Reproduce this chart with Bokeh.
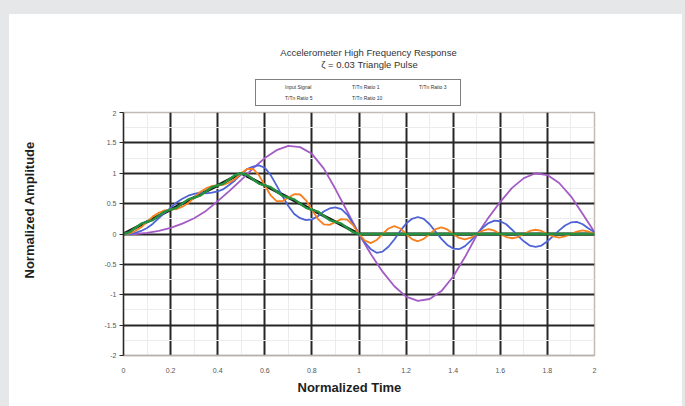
from bokeh.plotting import figure
from bokeh.layouts import column
from bokeh.models import Legend, LegendItem, Label, Title, FixedTicker, LinearAxis
from bokeh.embed import file_html
from bokeh.resources import INLINE

# ---------------- data ----------------
series_names = ["Input Signal", "T/Tn Ratio 1", "T/Tn Ratio 3", "T/Tn Ratio 5", "T/Tn Ratio 10"]

t_input = [0.0, 0.5, 1.0, 2.0]
input_signal = [0.0, 1.0, 0.0, 0.0]

t_coarse = [round(i * 0.05, 3) for i in range(41)]
t_fine = [round(i * 0.025, 3) for i in range(81)]

ratio1 = [0.0, 0.0, 0.02, 0.05, 0.1, 0.17, 0.26, 0.38, 0.54, 0.71,
          0.89, 1.08, 1.25, 1.38, 1.45, 1.43, 1.32, 1.08, 0.74, 0.37,
          0.0, -0.33, -0.62, -0.86, -1.03, -1.1, -1.07, -0.94, -0.7, -0.38,
          -0.02, 0.27, 0.53, 0.76, 0.92, 1.0, 0.97, 0.84, 0.62, 0.33, 0.03]

ratio3 = [0.0, 0.0, 0.02, 0.05, 0.1, 0.17, 0.26, 0.35, 0.43, 0.52,
          0.58, 0.63, 0.66, 0.68, 0.67, 0.68, 0.7, 0.74, 0.81, 0.89,
          0.98, 1.07, 1.11, 1.13, 1.09, 0.97, 0.8, 0.62, 0.46, 0.33,
          0.26, 0.23, 0.24, 0.29, 0.37, 0.42, 0.44, 0.41, 0.32, 0.17,
          0.0, -0.14, -0.25, -0.31, -0.29, -0.21, -0.09, 0.05, 0.17, 0.25,
          0.28, 0.25, 0.16, 0.04, -0.08, -0.18, -0.24, -0.25, -0.2, -0.11,
          0.0, 0.1, 0.18, 0.22, 0.21, 0.16, 0.07, -0.03, -0.12, -0.19,
          -0.21, -0.19, -0.12, -0.03, 0.06, 0.14, 0.19, 0.2, 0.16, 0.09, 0.03]

ratio5 = [0.0, 0.01, 0.05, 0.11, 0.2, 0.29, 0.35, 0.39, 0.4, 0.41,
          0.45, 0.51, 0.6, 0.69, 0.75, 0.79, 0.8, 0.81, 0.85, 0.91,
          1.0, 1.07, 1.07, 0.97, 0.8, 0.635, 0.54, 0.54, 0.6, 0.655,
          0.65, 0.555, 0.4, 0.25, 0.16, 0.15, 0.2, 0.245, 0.235, 0.145,
          0.0, -0.11, -0.15, -0.1, 0.0, 0.09, 0.13, 0.09, 0.0, -0.085,
          -0.12, -0.08, 0.0, 0.08, 0.11, 0.075, 0.0, -0.065, -0.09, -0.06,
          0.0, 0.055, 0.08, 0.055, 0.0, -0.05, -0.07, -0.05, 0.0, 0.05,
          0.07, 0.05, 0.0, -0.04, -0.06, -0.04, 0.0, 0.04, 0.06, 0.04, 0.0]

t_ratio10 = t_fine[:41] + [2.0]
ratio10 = [0.0, 0.03, 0.1, 0.17, 0.2, 0.23, 0.3, 0.37, 0.4, 0.43,
           0.5, 0.57, 0.6, 0.63, 0.7, 0.77, 0.8, 0.83, 0.9, 0.97,
           1.0, 0.97, 0.9, 0.83, 0.8, 0.77, 0.7, 0.63, 0.6, 0.57,
           0.5, 0.43, 0.4, 0.37, 0.3, 0.23, 0.2, 0.17, 0.1, 0.03, 0.0, 0.0]

x_ticks = [0, 0.2, 0.4, 0.6, 0.8, 1.0, 1.2, 1.4, 1.6, 1.8, 2.0]
x_tick_labels = ["0", "0.2", "0.4", "0.6", "0.8", "1", "1.2", "1.4", "1.6", "1.8", "2"]
y_ticks = [-2, -1.5, -1, -0.5, 0, 0.5, 1, 1.5, 2]
y_tick_labels = ["-2", "-1.5", "-1", "-0.5", "0", "0.5", "1", "1.5", "2"]

title_line1 = "Accelerometer High Frequency Response"
title_line2 = "ζ = 0.03 Triangle Pulse"
x_title = "Normalized Time"
y_title = "Normalized Amplitude"

colors = ["#151515", "#a35bc6", "#4e63d6", "#f7801e", "#23913f"]
FONT = "Liberation Sans"

W = 673
HEAD_H = 96

# ---------------- header (titles + legend) ----------------
head = figure(width=W, height=HEAD_H, x_range=(0, 1), y_range=(0, 1),
              output_backend="svg", toolbar_location=None, title=None,
              x_axis_location=None, y_axis_location=None,
              min_border=0, outline_line_color=None,
              background_fill_color="white", border_fill_color="white")
head.xgrid.visible = False
head.ygrid.visible = False

head.add_layout(Label(x=245, y=58, x_units="screen", y_units="screen",
                      text=title_line1, text_align="center", text_baseline="middle",
                      text_font=FONT, text_font_size="9.5px", text_color="#333333"))
head.add_layout(Label(x=246, y=46, x_units="screen", y_units="screen",
                      text=title_line2, text_align="center", text_baseline="middle",
                      text_font=FONT, text_font_size="9.5px", text_color="#333333"))

leg_widths = [1.6, 1.2, 1.2, 1.2, 1.2]
leg_renderers = [head.line([], [], line_color=c, line_width=w) for c, w in zip(colors, leg_widths)]
legend = Legend(items=[LegendItem(label=n, renderers=[r]) for n, r in zip(series_names, leg_renderers)],
                location=(132, 4), orientation="horizontal", ncols=3,
                border_line_color="black", border_line_width=1.5,
                label_text_font=FONT, label_text_font_size="5px",
                label_text_color="#333333",
                glyph_width=24, glyph_height=8, label_height=8, label_width=38,
                label_standoff=2, spacing=3, padding=3, margin=0,
                background_fill_alpha=1.0)
head.add_layout(legend)

# ---------------- chart ----------------
p = figure(width=W, height=392 - HEAD_H, x_range=(0, 2), y_range=(-2, 2),
           output_backend="svg", toolbar_location=None, title=None,
           min_border_left=114, min_border_right=88,
           min_border_top=2, min_border_bottom=51,
           background_fill_color="white", border_fill_color="white")

p.outline_line_color = "#c4bab5"
p.outline_line_width = 1.5

p.xaxis.ticker = FixedTicker(ticks=x_ticks)
p.xaxis.major_label_overrides = {t: l for t, l in zip(x_ticks, x_tick_labels)}
p.yaxis.ticker = FixedTicker(ticks=y_ticks)
p.yaxis.major_label_overrides = {t: l for t, l in zip(y_ticks, y_tick_labels)}
for ax in (p.xaxis[0], p.yaxis[0]):
    ax.major_label_text_font = FONT
    ax.major_label_text_font_size = "7px"
    ax.major_label_text_color = "#555555"
    ax.minor_tick_line_color = None
p.yaxis.axis_line_color = "#2a2a2a"
p.yaxis.axis_line_width = 1.5
p.yaxis.major_tick_line_color = "#2a2a2a"
p.yaxis.major_tick_out = 4
p.yaxis.major_tick_in = 0
p.yaxis.major_label_standoff = 3
p.xaxis.axis_line_color = "#b8b0ac"
p.xaxis.axis_line_width = 1.5
p.xaxis.major_tick_line_color = None
p.xaxis.major_label_standoff = 6

p.xgrid.ticker = FixedTicker(ticks=x_ticks[1:-1], minor_ticks=[0.1, 0.3, 0.5, 0.7, 0.9, 1.1, 1.3, 1.5, 1.7, 1.9])
p.ygrid.ticker = FixedTicker(ticks=y_ticks[1:], minor_ticks=[-1.75, -1.25, -0.75, -0.25, 0.25, 0.75, 1.25, 1.75])
for g in (p.xgrid[0], p.ygrid[0]):
    g.grid_line_color = "#262626"
    g.grid_line_width = 2
    g.minor_grid_line_color = "#ececec"
    g.minor_grid_line_width = 1

p.line(t_input, input_signal, line_color=colors[0], line_width=3)
p.line(t_coarse, ratio1, line_color=colors[1], line_width=1.8)
p.line(t_fine, ratio3, line_color=colors[2], line_width=1.8)
p.line(t_fine, ratio5, line_color=colors[3], line_width=1.8)
p.line(t_ratio10, ratio10, line_color=colors[4], line_width=2.4)

p.add_layout(Title(text=x_title, align="left", offset=174, text_font=FONT,
                   text_font_size="13px", text_font_style="bold",
                   text_color="#1e1e1e", standoff=4), "below")

# invisible spacer axis between the y axis and the y title
spacer = LinearAxis(ticker=FixedTicker(ticks=[]),
                    axis_line_color=None, major_tick_line_color=None,
                    minor_tick_line_color=None, major_label_text_font_size="0px",
                    axis_label=" ", axis_label_standoff=45,
                    axis_label_text_font=FONT, axis_label_text_font_size="13px")
p.add_layout(spacer, "left")
p.add_layout(Title(text=y_title, align="left", offset=77, text_font=FONT,
                   text_font_size="13px", text_font_style="bold",
                   text_color="#1e1e1e", standoff=4), "left")

layout = column(head, p, spacing=0)
layout.styles = {"margin-top": "14px", "margin-left": "9px", "background-color": "white"}

html = file_html(layout, INLINE)
html = html.replace("</head>", "<style>html,body{background:#e6e7e9;}</style></head>", 1)
open("out.html", "w").write(html)
